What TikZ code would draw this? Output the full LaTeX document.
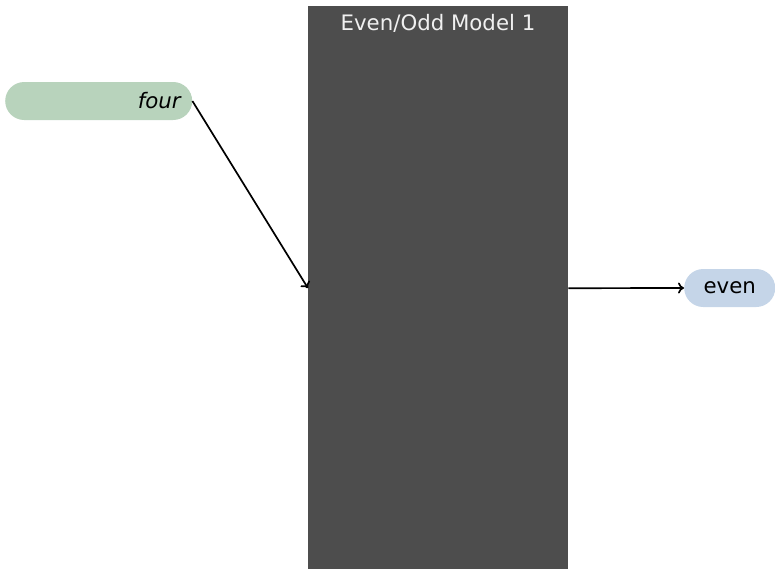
\documentclass[tikz,border=0pt]{standalone}
\usepackage{fontspec}
\setmainfont{DejaVu Sans}
\usetikzlibrary{arrows.meta}

\definecolor{boxgray}{RGB}{77,77,77}
\definecolor{ingreen}{RGB}{184,211,188}
\definecolor{outblue}{RGB}{197,213,232}

\begin{document}
\begin{tikzpicture}[x=1pt, y=-1pt, font=\fontsize{21.3}{25}\selectfont,
    pill/.style={rounded corners=19pt, minimum height=38pt, inner sep=0pt, text=black},
    flow/.style={line width=1.7pt, -{To[length=6pt, width=11pt]}}]
    \useasboundingbox (0,0) rectangle (775,568);
    % model block with its title
    \node[fill=boxgray, minimum width=260pt, minimum height=564pt, inner sep=0pt, anchor=north west] (model) at (308,6) {};
    \node[text={rgb,255:red,240;green,240;blue,240}, anchor=base] (title) at (438,30) {Even/Odd Model 1};
    % input and output
    \node[pill, fill=ingreen, text width=164pt, inner xsep=11.5pt, align=right, anchor=west] (four) at (5,101) {\itshape four};
    \node[pill, fill=outblue, minimum width=91pt, anchor=west] (even) at (684,288) {even};
    \draw[flow] (four.east) -- (model.west);
    \draw[flow] (model.east) -- (even.west);
\end{tikzpicture}
\end{document}
